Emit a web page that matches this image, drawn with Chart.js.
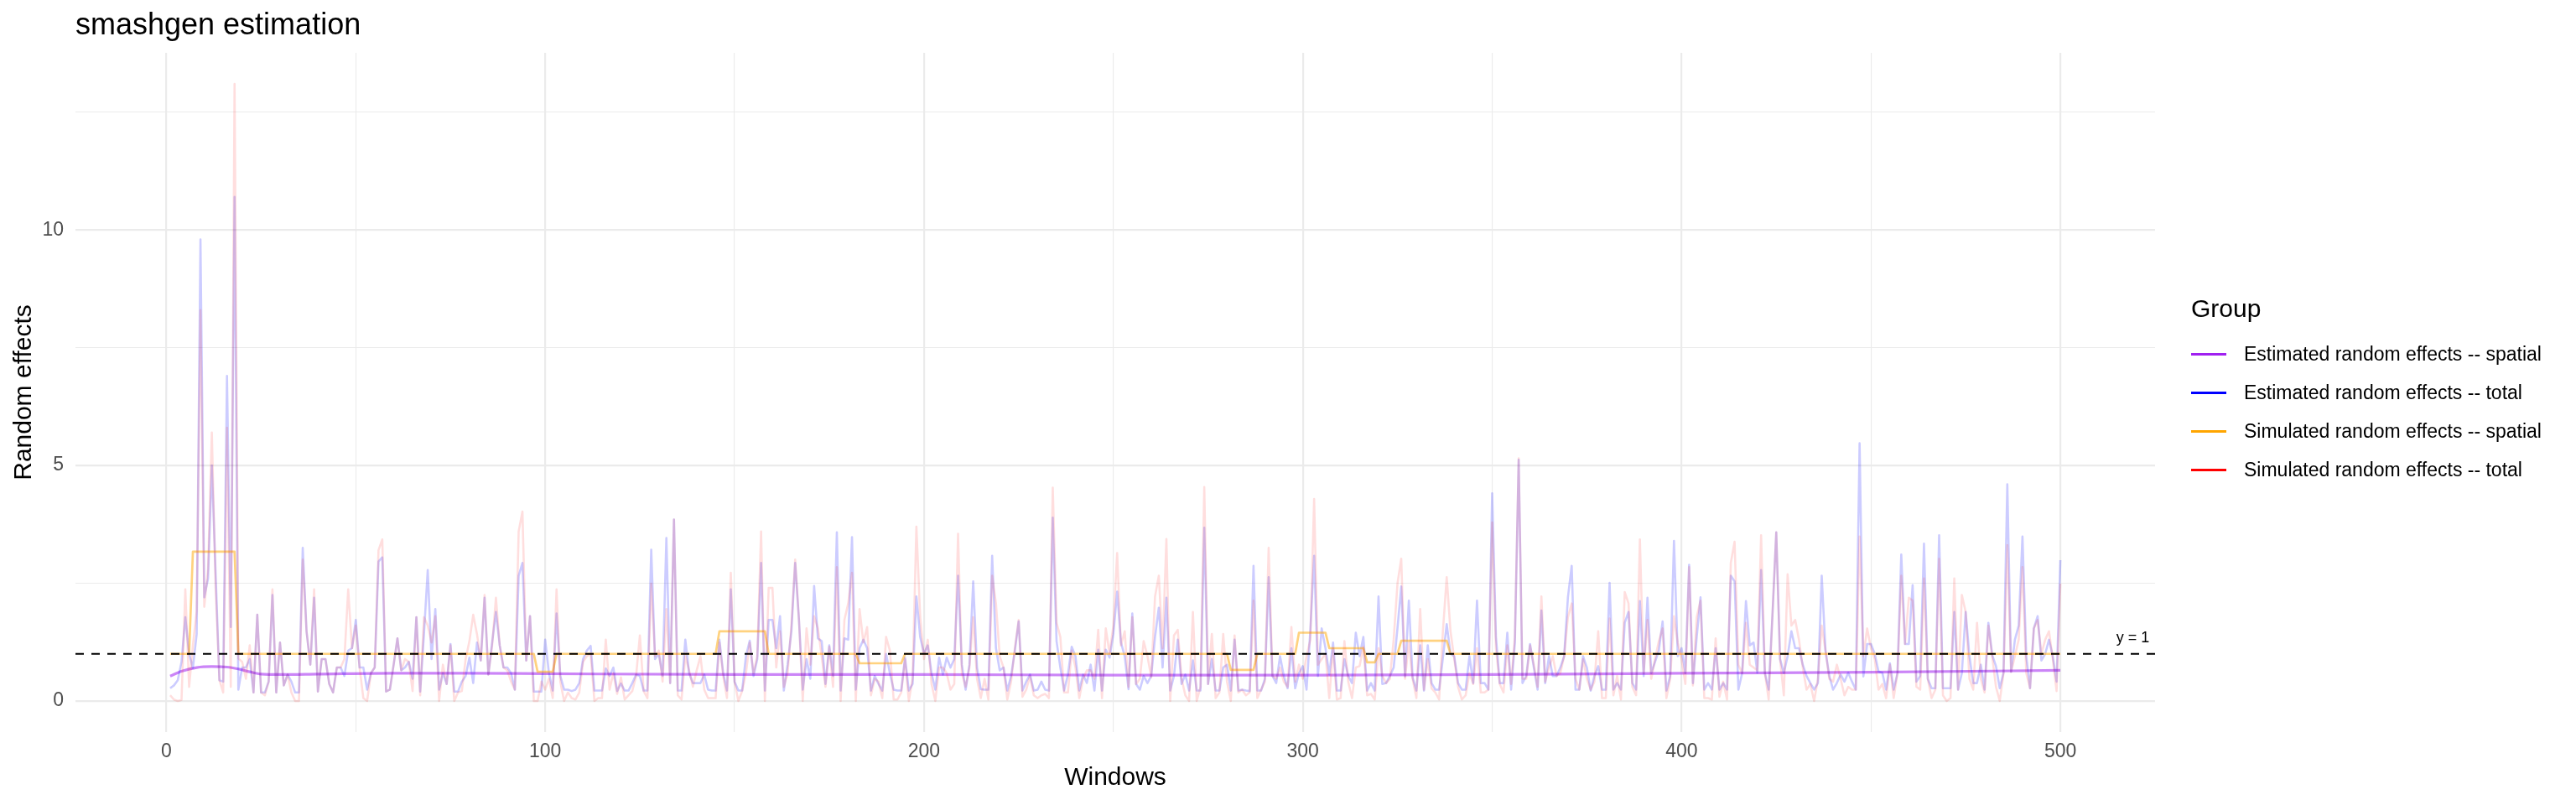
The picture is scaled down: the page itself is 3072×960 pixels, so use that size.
<!DOCTYPE html>
<html>
<head>
<meta charset="utf-8">
<title>smashgen estimation</title>
<script src="https://cdn.jsdelivr.net/npm/chart.js@4.4.1/dist/chart.umd.min.js"></script>
<style>
  html, body { margin:0; padding:0; background:#fff; }
  #wrap { position:relative; width:3072px; height:960px; font-family:"Liberation Sans", Arial, sans-serif; }
  #plot { position:absolute; left:0; top:0; }
  #title { position:absolute; left:90px; top:11px; font-size:36px; line-height:36px; color:#000; white-space:nowrap; }
  #legend { position:absolute; left:2613px; top:353px; color:#000; white-space:nowrap; }
  #legend .head { font-size:30px; line-height:30px; height:46px; }
  #legend .row { display:flex; align-items:center; height:46px; font-size:23px; }
  #legend .key { width:42px; height:3px; margin-right:21px; }
</style>
</head>
<body>
<div id="wrap">
  <canvas id="plot" width="3072" height="960"></canvas>
  <div id="title">smashgen estimation</div>
  <div id="legend"></div>
</div>
<script>
// window index on the x axis
const windows = Array.from({length: 500}, (_, i) => i + 1);

// Estimated random effects -- total (windows 1..500)
const estTotal = [
  0.27,0.33,0.44,0.83,1.78,1.00,0.70,1.42,9.80,2.20,2.60,5.00,2.70,0.44,0.41,6.90,1.57,10.70,0.24,0.71,
  0.71,0.89,0.18,1.83,0.18,0.18,0.41,2.25,0.18,1.24,0.33,0.56,0.41,0.18,0.18,3.25,1.48,0.77,2.19,0.20,
  0.89,0.89,0.36,0.18,0.71,0.71,0.53,1.07,1.12,1.72,0.71,0.71,0.24,0.59,0.71,2.96,3.05,0.20,0.24,0.77,
  1.33,0.65,0.71,0.83,0.47,1.78,0.20,1.42,2.78,0.89,1.95,0.24,0.59,0.36,1.21,0.20,0.20,0.41,0.53,0.92,
  0.38,1.24,0.86,2.19,0.56,1.24,1.89,1.18,0.71,0.71,0.59,0.24,2.66,2.93,0.86,1.80,0.20,0.20,0.20,1.30,
  0.59,0.22,1.86,0.53,0.24,0.24,0.21,0.24,0.38,0.89,1.07,1.17,0.22,0.22,0.22,0.69,0.53,0.71,0.21,0.37,
  0.22,0.22,0.38,0.56,0.53,0.22,0.22,3.21,0.89,1.00,0.53,3.46,0.38,3.85,0.22,0.22,1.30,0.59,0.38,0.38,
  0.38,0.56,0.24,0.22,0.22,1.30,0.59,0.22,2.37,0.41,0.22,0.22,0.95,1.28,0.53,0.89,2.93,0.22,1.72,1.72,
  1.12,1.80,0.22,0.77,1.48,2.93,1.72,0.24,0.89,0.47,2.44,1.33,1.27,0.36,1.18,0.53,3.58,0.22,1.33,1.30,
  3.48,0.24,1.12,1.30,1.12,0.22,0.53,0.36,0.22,1.00,0.59,0.24,0.22,0.22,0.92,0.22,0.36,2.22,1.36,1.00,
  1.18,0.59,0.24,0.92,0.56,0.92,0.71,0.89,2.66,0.77,0.24,0.77,2.54,0.71,0.25,0.24,0.24,3.08,1.12,0.65,
  0.71,0.22,0.53,1.07,1.69,0.22,0.41,0.56,0.22,0.24,0.41,0.24,0.22,3.89,1.27,0.71,0.22,0.56,1.15,0.95,
  0.22,0.56,0.38,0.77,0.22,1.09,0.22,1.09,0.92,1.42,2.32,1.24,0.95,0.25,1.86,0.36,0.24,0.53,0.38,0.53,
  1.36,1.98,0.71,2.19,0.22,0.53,1.30,0.36,0.56,0.22,0.86,0.22,0.22,3.68,0.36,0.89,0.22,0.22,0.71,0.77,
  0.22,1.30,0.22,0.24,0.22,0.21,2.87,0.22,0.22,0.47,2.63,0.53,0.38,0.95,0.53,0.27,1.12,0.27,0.59,0.74,
  0.24,1.50,3.08,0.53,1.54,1.12,0.56,1.24,0.22,0.22,0.89,0.53,0.38,1.45,0.95,1.36,0.22,0.38,0.22,2.22,
  0.36,0.38,0.53,0.71,1.54,2.43,0.52,2.13,0.50,0.22,1.18,0.22,1.18,0.38,0.24,0.24,0.92,1.63,1.00,0.95,
  0.38,0.24,0.24,0.95,0.38,2.13,0.38,0.38,0.24,4.41,1.36,0.38,0.38,1.45,0.24,1.24,5.12,0.38,0.53,1.21,
  0.71,0.24,1.92,0.38,0.95,0.53,0.53,0.71,0.95,2.20,2.87,0.24,0.24,0.95,0.71,0.22,0.53,0.74,0.24,0.24,
  2.51,0.24,0.38,0.24,1.66,1.89,0.38,0.24,2.12,0.53,2.19,0.59,0.83,1.07,1.69,0.22,0.53,3.40,0.95,1.12,
  0.59,2.89,0.38,1.36,2.20,0.24,0.38,0.24,1.12,0.24,0.38,0.24,2.66,2.54,0.24,0.59,2.12,1.18,1.24,0.60,
  2.78,0.59,0.24,1.83,3.58,0.89,0.59,0.95,1.48,1.12,1.12,0.77,0.53,0.38,0.24,0.38,2.66,1.07,0.53,0.24,
  0.38,0.56,0.41,0.60,0.41,0.24,5.47,0.52,1.21,1.21,1.00,0.62,0.60,0.24,0.80,0.24,0.59,3.11,1.21,1.21,
  2.46,0.41,0.53,3.34,0.47,0.27,0.27,3.52,0.27,0.27,0.27,1.89,0.24,0.59,1.89,0.95,0.38,0.38,0.77,0.24,
  1.66,0.98,0.74,0.27,0.60,4.60,0.62,1.30,1.60,3.49,0.95,0.27,1.54,1.80,0.86,1.00,1.30,0.95,0.41,2.99
];

// Simulated random effects -- total
const simTotal = [
  0.12,0.03,0.00,0.02,2.37,0.30,1.18,1.90,8.30,2.00,2.80,5.70,2.40,0.44,0.18,5.80,0.30,13.10,0.90,0.83,
  0.47,1.18,0.18,1.83,0.18,0.12,0.41,2.37,0.18,1.24,0.33,0.56,0.18,0.00,0.00,3.00,1.48,0.77,2.37,0.20,
  0.89,0.89,0.36,0.18,0.71,0.71,0.89,2.37,1.12,1.60,0.71,0.06,0.00,0.59,0.71,3.20,3.43,0.20,0.24,0.77,
  1.33,0.65,0.89,0.83,0.21,1.78,0.12,1.78,1.60,1.24,1.80,0.00,0.77,0.36,1.18,0.00,0.18,0.21,0.89,1.27,
  1.83,1.42,0.86,2.25,0.56,1.18,2.19,1.18,0.71,0.65,0.41,0.24,3.60,4.02,0.86,1.80,0.00,0.00,0.41,0.24,
  0.47,0.06,2.37,0.41,0.00,0.18,0.06,0.03,0.18,0.83,0.95,1.00,0.00,0.06,0.06,1.30,0.24,0.59,0.15,0.50,
  0.03,0.12,0.21,0.53,1.39,0.21,0.06,2.49,0.95,1.07,0.41,1.95,0.38,3.85,0.12,0.03,0.95,0.65,0.30,0.65,
  0.95,0.24,0.06,0.06,0.06,1.24,0.53,0.06,2.72,0.41,0.00,0.21,0.59,1.24,0.59,0.95,3.60,0.00,2.40,2.40,
  0.71,1.48,0.30,0.59,1.60,3.00,1.72,0.00,1.54,0.77,1.80,1.54,0.95,0.30,1.15,0.30,2.84,0.00,1.72,2.07,
  2.72,0.00,1.95,1.24,1.57,0.12,0.47,0.41,0.06,1.36,1.07,0.03,0.03,0.18,0.89,0.00,0.47,3.70,1.78,0.89,
  1.30,0.36,0.00,0.71,0.71,0.59,0.24,0.36,3.55,0.59,0.30,0.71,1.78,0.47,0.06,0.47,0.03,2.66,2.07,0.95,
  0.71,0.03,0.41,1.12,1.72,0.09,0.24,0.53,0.12,0.06,0.12,0.15,0.06,4.53,1.66,1.36,0.18,0.18,1.07,0.71,
  0.06,0.47,0.65,0.65,0.47,1.51,0.06,1.54,1.01,1.60,3.14,1.18,1.48,0.30,1.78,0.36,0.47,1.27,0.95,0.50,
  2.22,2.66,1.12,3.44,0.00,1.39,1.51,0.47,0.12,0.00,1.89,0.00,0.30,4.54,0.36,1.42,0.06,0.18,1.42,0.41,
  0.00,1.39,0.18,0.24,0.12,0.18,2.13,0.06,0.24,0.41,3.25,0.53,0.47,0.71,0.41,0.30,1.57,0.41,0.77,0.47,
  0.95,1.30,4.29,0.77,0.89,1.00,0.06,1.12,0.03,0.06,1.27,0.41,0.06,0.71,0.74,1.15,0.12,0.15,0.03,1.12,
  0.53,0.38,0.47,1.30,2.49,3.02,0.47,1.24,0.47,0.06,1.95,0.24,0.89,0.27,0.18,0.03,1.48,2.63,1.48,0.89,
  0.30,0.03,0.12,0.59,0.36,1.12,0.18,0.18,0.24,3.79,1.12,0.36,0.18,1.18,0.36,1.36,5.15,0.47,0.47,1.18,
  0.77,0.30,2.22,0.41,0.71,0.95,0.53,0.59,0.95,1.78,2.07,0.47,0.24,0.89,0.47,0.24,0.41,1.48,0.06,0.06,
  1.75,0.12,0.53,0.03,2.31,2.07,0.30,0.12,3.43,0.59,1.72,0.47,0.89,1.27,1.54,0.06,0.47,1.80,1.24,0.89,
  0.36,2.84,0.33,1.78,2.13,0.06,0.06,0.03,1.33,0.09,0.41,0.03,2.93,3.38,0.77,0.59,1.66,0.77,0.71,0.65,
  3.52,0.59,0.03,1.83,3.58,0.89,0.12,2.69,1.60,1.72,1.30,0.71,0.24,0.36,0.00,0.47,1.60,1.07,0.47,0.41,
  0.77,0.47,0.12,0.30,0.24,0.24,3.49,0.95,1.54,1.12,0.89,0.24,0.36,0.06,0.77,0.06,0.59,2.66,1.21,2.19,
  2.13,0.30,0.24,2.60,0.47,0.06,0.24,3.02,0.12,0.00,0.06,2.60,0.24,2.25,1.89,0.47,0.24,1.66,0.47,0.18,
  1.60,0.95,0.30,0.00,0.59,3.31,0.62,0.95,1.30,2.84,0.59,0.27,1.54,1.72,1.00,1.30,1.48,0.89,0.21,2.49
];

// Simulated random effects -- spatial: piecewise-constant levels and how many windows each lasts
const simSpatialLevels = [1.00, 3.17, 1.00, 0.62, 1.00, 1.48, 1.00, 0.80, 1.00, 0.66, 1.00, 1.45, 1.12, 0.82, 1.00, 1.28, 1.00];
const simSpatialRuns   = [6,    12,   79,   5,    43,   13,   24,   12,   86,   7,    11,   8,    10,   3,    6,    13,   162];

// Estimated random effects -- spatial (smooth curve, read at these windows)
const estSpatialX = [1, 4, 8, 12, 16, 19, 22, 25, 30, 40, 60, 80, 100, 150, 200, 250, 300, 350, 400, 450, 500];
const estSpatialY = [0.53, 0.63, 0.71, 0.73, 0.72, 0.68, 0.62, 0.57, 0.56, 0.57, 0.59, 0.59, 0.58, 0.56, 0.56, 0.55, 0.55, 0.56, 0.59, 0.61, 0.65];

const seriesNames = [
  'Estimated random effects -- spatial',
  'Estimated random effects -- total',
  'Simulated random effects -- spatial',
  'Simulated random effects -- total'
];
const keyColors = ['#A020F0', '#0000FF', '#FFA500', '#FF0000'];

const xTicks = [0, 50, 100, 150, 200, 250, 300, 350, 400, 450, 500];
const yTicks = [0, 2.5, 5, 7.5, 10, 12.5];
const xRange = [-24, 525];
const yRange = [-0.66, 13.76];

const refY = 1;
const refText = 'y = 1';
const refTextAt = [523.5, 1.33];

// ---- build datasets
const simSpatial = simSpatialLevels.flatMap((v, k) => Array(simSpatialRuns[k]).fill(v));
const pts = arr => arr.map((v, i) => ({x: windows[i], y: v}));

const FONT = '"Liberation Sans", Arial, sans-serif';
Chart.defaults.font.family = FONT;

const refLabel = {
  id: 'refLabel',
  afterDatasetsDraw(chart) {
    const {ctx, scales: {x, y}} = chart;
    ctx.save();
    ctx.font = '18px ' + FONT;
    ctx.fillStyle = '#000';
    ctx.textAlign = 'right';
    ctx.textBaseline = 'middle';
    ctx.fillText(refText, x.getPixelForValue(refTextAt[0]), y.getPixelForValue(refTextAt[1]));
    ctx.restore();
  }
};

const lineBase = {pointRadius: 0, tension: 0, borderJoinStyle: 'round', borderCapStyle: 'butt', fill: false};

new Chart(document.getElementById('plot'), {
  type: 'line',
  data: {
    datasets: [
      Object.assign({}, lineBase, {
        label: seriesNames[0],
        data: estSpatialX.map((x, i) => ({x, y: estSpatialY[i]})),
        borderColor: 'rgba(160,32,240,0.55)', borderWidth: 3.2,
        cubicInterpolationMode: 'monotone', order: 4
      }),
      Object.assign({}, lineBase, {
        label: seriesNames[1], data: pts(estTotal),
        borderColor: 'rgba(0,0,255,0.2)', borderWidth: 2.6, order: 3
      }),
      Object.assign({}, lineBase, {
        label: seriesNames[2], data: pts(simSpatial),
        borderColor: 'rgba(255,165,0,0.5)', borderWidth: 2.7, order: 2
      }),
      Object.assign({}, lineBase, {
        label: seriesNames[3], data: pts(simTotal),
        borderColor: 'rgba(255,0,0,0.13)', borderWidth: 2.6, order: 1
      }),
      Object.assign({}, lineBase, {
        label: 'ref', data: xRange.map(x => ({x, y: refY})),
        borderColor: '#000', borderWidth: 2, borderDash: [10, 9], order: 0
      })
    ]
  },
  options: {
    responsive: false,
    devicePixelRatio: 1,
    animation: false,
    events: [],
    layout: {padding: {left: 0, top: 63, right: 502, bottom: 0}},
    plugins: {legend: {display: false}, tooltip: {enabled: false}, title: {display: false}},
    scales: {
      x: {
        type: 'linear', min: xRange[0], max: xRange[1], bounds: 'data',
        afterBuildTicks: s => { s.ticks = xTicks.map(v => ({value: v})); },
        afterFit: s => { s.height = 87; },
        border: {display: false},
        grid: {
          color: '#ebebeb', drawTicks: false,
          lineWidth: c => (c.tick && c.tick.value % 100 === 0) ? 2.2 : 1.1
        },
        ticks: {
          autoSkip: false, maxRotation: 0, padding: 10, color: '#4d4d4d',
          font: {size: 23},
          callback: v => (v % 100 === 0 ? v : '')
        },
        title: {display: true, text: 'Windows', color: '#000', font: {size: 30}, padding: {top: 0, bottom: 14}}
      },
      y: {
        type: 'linear', min: yRange[0], max: yRange[1], bounds: 'data',
        afterBuildTicks: s => { s.ticks = yTicks.map(v => ({value: v})); },
        afterFit: s => { s.width = 90; },
        border: {display: false},
        grid: {
          color: '#ebebeb', drawTicks: false,
          lineWidth: c => (c.tick && c.tick.value % 5 === 0) ? 2.2 : 1.1
        },
        ticks: {
          autoSkip: false, padding: 14, color: '#4d4d4d',
          font: {size: 23},
          callback: v => (v % 5 === 0 ? v : '')
        },
        title: {display: true, text: 'Random effects', color: '#000', font: {size: 30}, padding: {top: 11, bottom: 0}}
      }
    }
  },
  plugins: [refLabel]
});

// legend
const legend = document.getElementById('legend');
legend.innerHTML = '<div class="head">Group</div>' + seriesNames.map((n, i) =>
  `<div class="row"><span class="key" style="background:${keyColors[i]}"></span>${n}</div>`).join('');
</script>
</body>
</html>
